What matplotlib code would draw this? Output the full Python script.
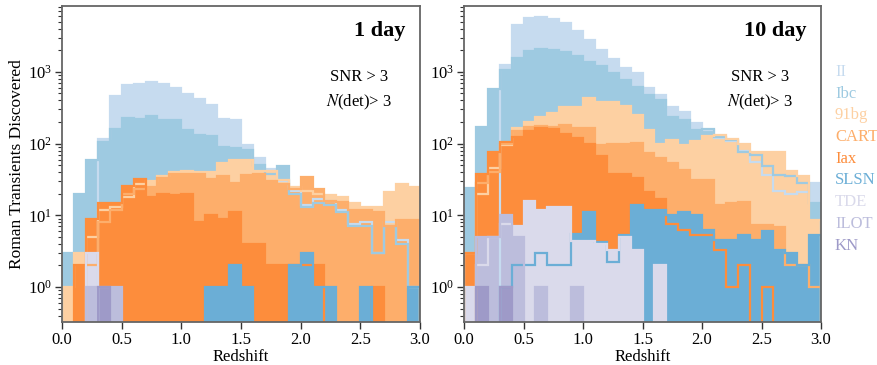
import numpy as np
import matplotlib
matplotlib.use("Agg")
import matplotlib.pyplot as plt

plt.rcParams['font.family'] = ['Liberation Serif', 'DejaVu Serif']
plt.rcParams['mathtext.fontset'] = 'stix'

classes = ['II', 'Ibc', '91bg', 'CART', 'Iax', 'SLSN', 'TDE', 'ILOT', 'KN']
colors = ['#c6dbef', '#9ecae1', '#fdd0a2', '#fdae6b', '#fd8d3c',
          '#6baed6', '#dadaeb', '#bcbddc', '#9e9ac8']
edges = np.linspace(0, 3, 31)

# 1 day cadence, counts per 0.1 redshift bin
ii_1 = [0, 0, 0, 117, 466, 650, 685, 723, 678, 591, 492, 415, 349, 223, 213,
        96, 62, 44, 30, 22, 14, 17, 16, 12, 7.5, 8, 3, 8, 4.5, 1]
ibc_1 = [3, 20, 60, 106, 158, 225, 220, 245, 211, 211, 155, 131, 128, 89, 86,
         81, 50, 38, 48, 20, 13, 15, 14, 11, 7, 7, 3, 7, 4, 1]
bg91_1 = [1, 3, 5, 12, 13, 18, 27, 30, 35, 40, 42, 40, 40, 53, 60,
          60, 42, 41, 31, 25, 22, 20, 19, 18, 15, 13, 13, 21, 27, 25]
cart_1 = [0, 0, 2, 8, 12, 20, 23, 25, 33, 38, 38, 38, 32, 35, 28,
          37, 38, 30, 27, 23, 34, 23, 16, 15.5, 12, 12, 11, 7, 8.6, 8.6]
iax_1 = [0, 2, 9, 15, 15, 26, 32, 18, 20, 19, 20, 8, 10, 9, 11,
         4, 4, 2, 2, 2, 2, 2, 0, 0, 0, 0, 1, 0, 0, 0]
slsn_1 = [0, 0, 0, 0, 0, 0, 0, 0, 0, 0, 0, 0, 1, 1, 2,
          1, 0, 0, 0, 2, 3, 1, 1, 0, 0, 1, 0, 0, 0, 1]
tde_1 = [0, 0, 3, 0, 0, 0, 0, 0, 0, 0, 0, 0, 0, 0, 0,
         0, 0, 0, 0, 0, 0, 0, 0, 0, 0, 0, 0, 0, 0, 0]
ilot_1 = [0, 0, 1, 1, 1, 0, 0, 0, 0, 0, 0, 0, 0, 0, 0,
          0, 0, 0, 0, 0, 0, 0, 0, 0, 0, 0, 0, 0, 0, 0]
kn_1 = [0, 0, 0, 1, 0, 0, 0, 0, 0, 0, 0, 0, 0, 0, 0,
        0, 0, 0, 0, 0, 0, 0, 0, 0, 0, 0, 0, 0, 0, 0]

# 10 day cadence
ii_10 = [0, 0, 0, 1250, 4500, 5600, 5900, 5400, 4760, 3720, 2790, 2020, 1500, 1120, 955,
         590, 475, 327, 279, 191, 155, 120, 110, 80, 56, 36, 22, 20, 21, 28]
ibc_10 = [24, 169, 572, 1050, 1550, 1980, 2110, 2020, 1910, 1670, 1390, 1210, 975, 771, 610,
          475, 405, 237, 212, 155, 160, 125, 112, 77, 69, 48, 36, 35, 28, 14.7]
bg91_10 = [3, 20, 45, 95, 165, 200, 232, 265, 327, 320, 437, 384, 384, 334, 251,
           155, 100, 112, 95, 110, 128, 130, 115, 100, 77, 77, 77, 41, 35, 8.6]
cart_10 = [0, 28, 40, 100, 150, 172, 175, 172, 180, 163, 163, 96, 100, 100, 103,
           73, 62, 53, 43, 31, 31, 14, 14.7, 15.5, 7.3, 7.3, 6.9, 2, 2, 1]
iax_10 = [3, 38, 77, 106, 122, 150, 163, 160, 134, 118, 99, 68, 38, 38, 33,
          21, 17, 7.5, 6.2, 5.3, 5.3, 3.3, 1, 2, 0, 1, 0, 0, 0, 0]
slsn_10 = [0, 0, 0, 1, 2, 2, 3, 2, 2, 5.5, 11, 4.3, 2.2, 5.3, 14,
           12, 12, 10, 11, 10, 6.2, 4.5, 4.5, 5.3, 4.5, 6, 3.3, 3, 2, 5.3]
tde_10 = [1, 2, 5, 7.6, 7, 16, 12, 13, 13, 4.4, 4.4, 4, 3.3, 5, 3.3,
          0, 2, 0, 0, 0, 0, 0, 0, 0, 0, 0, 0, 0, 0, 0]
ilot_10 = [0, 5, 5, 10, 5, 0, 1, 0, 0, 1, 0, 0, 0, 0, 0,
           0, 0, 0, 0, 0, 0, 0, 0, 0, 0, 0, 0, 0, 0, 0]
kn_10 = [0, 1, 0, 1, 0, 0, 0, 0, 0, 0, 0, 0, 0, 0, 0,
         0, 0, 0, 0, 0, 0, 0, 0, 0, 0, 0, 0, 0, 0, 0]

series_1 = [ii_1, ibc_1, bg91_1, cart_1, iax_1, slsn_1, tde_1, ilot_1, kn_1]
series_10 = [ii_10, ibc_10, bg91_10, cart_10, iax_10, slsn_10, tde_10, ilot_10, kn_10]

fig = plt.figure(figsize=(8.78, 3.65), dpi=100)
ax1 = fig.add_axes([0.0706, 0.1178, 0.4077, 0.8658])
ax2 = fig.add_axes([0.5285, 0.1178, 0.4066, 0.8658])

for ax, series, title in [(ax1, series_1, '1 day'), (ax2, series_10, '10 day')]:
    ax.set_yscale('log')
    for vals, c in zip(series, colors):
        ax.stairs(vals, edges, fill=True, color=c, linewidth=0, zorder=1)
    for vals, c in zip(series, colors):
        ax.stairs(vals, edges, color=c, linewidth=1.6, zorder=2)
    ax.set_xlim(0, 3)
    ax.set_ylim(0.325, 8300)
    ax.set_xticks([0, 0.5, 1.0, 1.5, 2.0, 2.5, 3.0])
    ax.set_xlabel('Redshift', fontsize=12, labelpad=1)
    ax.tick_params(axis='both', which='major', labelsize=12, length=5,
                   width=1, colors='#333333', direction='out', pad=2)
    ax.tick_params(axis='y', which='minor', length=3, width=0.8, colors='#333333')
    ax.tick_params(axis='x', labelcolor='black')
    ax.tick_params(axis='y', labelcolor='black')
    for sp in ax.spines.values():
        sp.set_color('#666666')
        sp.set_linewidth(1.3)
    ax.text(0.96, 0.92, title, transform=ax.transAxes, ha='right', va='center',
            fontsize=16, fontweight='bold')
    ax.text(0.83, 0.775, 'SNR > 3', transform=ax.transAxes, ha='center',
            va='center', fontsize=12)
    ax.text(0.83, 0.695, r'$N$(det)> 3', transform=ax.transAxes, ha='center',
            va='center', fontsize=12)

ax1.set_ylabel('Roman Transients Discovered', fontsize=12.5, labelpad=2)

for i, (name, c) in enumerate(zip(classes, colors)):
    fig.text(835 / 878, 1 - (72 + 21.7 * i) / 365, name, color=c,
             fontsize=12, ha='left', va='center')

fig.savefig('out.png', dpi=100)
